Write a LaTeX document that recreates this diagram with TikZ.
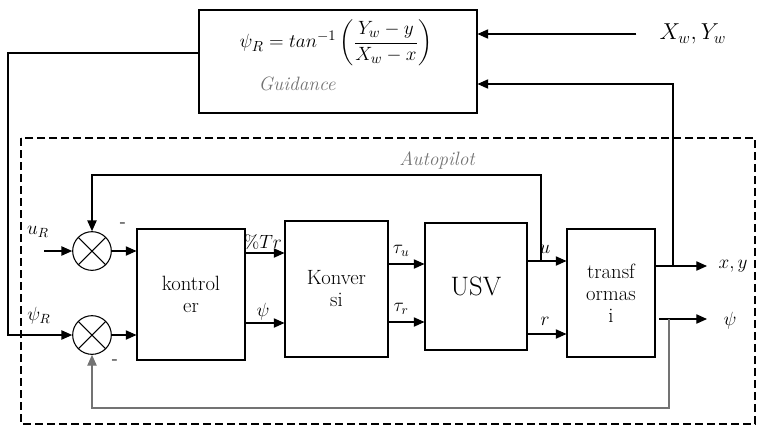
\documentclass[tikz,border=0pt]{standalone}
\usepackage{amsmath}
\usetikzlibrary{arrows.meta}
\definecolor{abu}{gray}{0.45}

\tikzset{
  blok/.style={draw, line width=0.8pt, align=center, inner sep=0pt,
    font=\fontsize{15.5}{16.5}\selectfont},
  jumlah/.style={draw, line width=0.8pt, circle, minimum size=29pt, inner sep=0pt,
    path picture={
      \draw[line width=0.8pt] (path picture bounding box.north west) -- (path picture bounding box.south east);
      \draw[line width=0.8pt] (path picture bounding box.north east) -- (path picture bounding box.south west);}},
  panah/.style={line width=0.8pt, -{Triangle[length=8pt,width=7pt]}},
  lbl/.style={font=\fontsize{14}{14}\selectfont, inner sep=1pt},
  keterangan/.style={text=abu, font=\fontsize{14.5}{14.5}\selectfont\itshape}
}

\begin{document}
\begin{tikzpicture}[x=0.75pt, y=-0.75pt]
    \useasboundingbox (0,0) rectangle (757,426);
    % Guidance
    \node[blok, minimum width=208.5pt, minimum height=77.25pt] (guid) at (338,61.5) {};
    \node[font=\fontsize{15}{15}\selectfont] (rumus) at (336,43)
      {$\psi_R = tan^{-1}\left(\dfrac{Y_w - y}{X_w - x}\right)$};
    \node[keterangan] (ketguid) at (297,84) {Guidance};
    \node[font=\fontsize{18}{18}\selectfont, anchor=west] (xw) at (655,34) {$X_w, Y_w$};
    % Autopilot
    \draw[line width=1.6pt, dash pattern=on 6pt off 3pt] (21,138) rectangle (755,424);
    \node[keterangan] (ketauto) at (437,160) {Autopilot};
    % Blok
    \node[jumlah] (sum1) at (92,251) {};
    \node[jumlah] (sum2) at (92,335) {};
    \node[blok, minimum width=81pt, minimum height=98.25pt] (kontrol) at (191,294.5) {kontrol\\er};
    \node[blok, minimum width=77.25pt, minimum height=102pt] (konv) at (336.5,289) {Konver\\si};
    \node[blok, minimum width=76.5pt, minimum height=95.25pt, font=\fontsize{20}{20}\selectfont] (usv) at (476,286.5) {USV};
    \node[blok, minimum width=66pt, minimum height=96pt] (trans) at (611,293) {transf\\ormas\\i};
    % Masukan
    \coordinate (uin) at (44,251);
    \coordinate (kiri) at (8,335);
    \draw[panah] (uin) -- (sum1.west);
    \node[lbl] (uR) at (38,232) {$u_{\scriptstyle R}$};
    \node[lbl] (psiR) at (39,316) {$\psi_{\scriptstyle R}$};
    \draw[panah] (guid.west |- 0,53) -- (8,53) -- (kiri) -- (sum2.west);
    \draw[panah] ([xshift=-14pt]xw.west) -- (xw.west -| guid.east);
    % Sinyal
    \draw[panah] (sum1.east) -- (sum1.east -| kontrol.west);
    \draw[panah] (sum2.east) -- (sum2.east -| kontrol.west);
    \node[lbl] (min1) at (123,225) {-};
    \node[lbl] (min2) at (115,362) {-};
    \draw[panah] (kontrol.east |- 0,253) -- (konv.west |- 0,253) node[lbl, pos=0.45, above=1pt] (tTr) {\%$Tr$};
    \draw[panah] (kontrol.east |- 0,323) -- (konv.west |- 0,323) node[lbl, pos=0.45, above=1pt] (tpsi) {$\psi$};
    \draw[panah] (konv.east |- 0,264) -- (usv.west |- 0,264) node[lbl, pos=0.35, above=4pt] (ttu) {$\tau_u$};
    \draw[panah] (konv.east |- 0,322) -- (usv.west |- 0,322) node[lbl, pos=0.35, above=4pt] (ttr) {$\tau_r$};
    \draw[panah] (usv.east |- 0,261) -- (trans.west |- 0,261) node[lbl, pos=0.45, above=4pt] (tu) {$u$};
    \draw[panah] (usv.east |- 0,334) -- (trans.west |- 0,334) node[lbl, pos=0.45, above=5pt] (tr) {$r$};
    % Keluaran
    \coordinate (outxy) at (707,266);
    \coordinate (outpsi) at (707,319);
    \draw[panah] (trans.east |- outxy) -- (outxy);
    \draw[panah] (659,319) -- (outpsi);
    \node[lbl, anchor=west] (txy) at (717,266) {$x, y$};
    \node[lbl, anchor=west] (tpsiout) at (722,321) {$\psi$};
    % Umpan balik
    \draw[panah] (673,266) -- (673,84) -- (guid.east |- 0,84);
    \draw[panah] (541,261) -- (541,175) -- (sum1.north |- 0,175) -- (sum1.north);
    \draw[panah, draw=abu] (669,319) -- (669,408) -- (sum2.south |- 0,408) -- (sum2.south);
\end{tikzpicture}
\end{document}
